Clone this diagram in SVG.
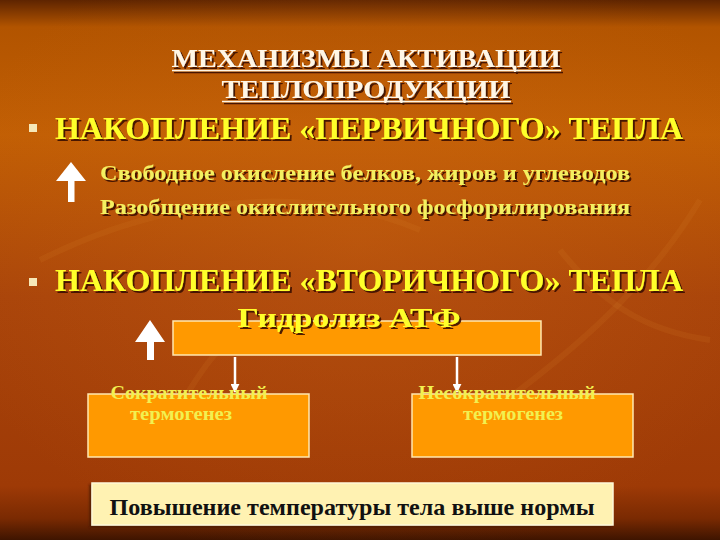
<svg xmlns="http://www.w3.org/2000/svg" width="720" height="540" viewBox="0 0 720 540">
  <defs>
    <linearGradient id="bg" x1="0" y1="0" x2="0" y2="1">
      <stop offset="0" stop-color="#5e2400"/>
      <stop offset="0.05" stop-color="#b25400"/>
      <stop offset="0.25" stop-color="#c25f04"/>
      <stop offset="0.55" stop-color="#a9440a"/>
      <stop offset="0.9" stop-color="#9e3a06"/>
      <stop offset="0.96" stop-color="#7a2a02"/>
      <stop offset="1" stop-color="#3e1400"/>
    </linearGradient>
    <radialGradient id="glow" cx="0.5" cy="0.45" r="0.6">
      <stop offset="0" stop-color="#d06a18" stop-opacity="0.3"/>
      <stop offset="1" stop-color="#d06a18" stop-opacity="0"/>
    </radialGradient>
    <filter id="sh" filterUnits="userSpaceOnUse" x="0" y="0" width="720" height="540">
      <feDropShadow dx="2" dy="2" stdDeviation="0.6" flood-color="#3a1000" flood-opacity="0.9"/>
    </filter>
    <filter id="bsh" filterUnits="userSpaceOnUse" x="0" y="0" width="720" height="540">
      <feDropShadow dx="-2" dy="2" stdDeviation="1" flood-color="#4a1500" flood-opacity="0.8"/>
    </filter>
    <marker id="ah" viewBox="0 0 10 10" refX="9" refY="5" markerWidth="3.6" markerHeight="3.6" orient="auto">
      <path d="M0,0 L10,5 L0,10 z" fill="#ffffff"/>
    </marker>
  </defs>
  <style>
    .title { font-family: "Liberation Serif", "Times New Roman", serif; font-weight: bold; font-size: 26px; fill: #fff6e6; }
    .head { font-family: "Liberation Serif", "Times New Roman", serif; font-weight: bold; font-size: 32px; fill: #ffff2a; }
    .sub { font-family: "Liberation Serif", "Times New Roman", serif; font-weight: bold; font-size: 22px; fill: #f4f060; }
    .atp { font-family: "Liberation Serif", "Times New Roman", serif; font-weight: bold; font-size: 28px; fill: #ffff2a; }
    .small { font-family: "Liberation Serif", "Times New Roman", serif; font-weight: bold; font-size: 18px; fill: #f2f050; }
    .result { font-family: "Liberation Serif", "Times New Roman", serif; font-weight: bold; font-size: 23px; fill: #111111; }
    .box { fill: #ff9900; stroke: #ffe8b0; stroke-width: 1.5; }
    .conn { stroke: #ffffff; stroke-width: 2.5; fill: none; }
    .bigarrow { fill: #ffffff; }
    .bullet { fill: #f6e8b8; }
  </style>

  <!-- background -->
  <rect x="0" y="0" width="720" height="540" fill="url(#bg)"/>
  <rect x="0" y="0" width="720" height="540" fill="url(#glow)"/>
  <g fill="none" stroke="#e08a30" stroke-opacity="0.12" stroke-width="6">
    <path d="M40,260 C160,200 300,180 420,230"/>
    <path d="M480,420 C560,360 640,300 700,200"/>
    <path d="M560,250 C600,300 640,330 710,340"/>
    <path d="M150,450 C190,400 200,350 260,320"/>
  </g>

  <!-- title -->
  <g id="title" filter="url(#sh)">
    <text class="title" x="366" y="67" text-anchor="middle" textLength="389" lengthAdjust="spacingAndGlyphs">МЕХАНИЗМЫ АКТИВАЦИИ</text>
    <line x1="172" y1="70.5" x2="561" y2="70.5" stroke="#fff6e6" stroke-width="1.5"/>
    <text class="title" x="366" y="98" text-anchor="middle" textLength="289" lengthAdjust="spacingAndGlyphs">ТЕПЛОПРОДУКЦИИ</text>
    <line x1="222" y1="101.5" x2="511" y2="101.5" stroke="#fff6e6" stroke-width="1.5"/>
  </g>

  <!-- primary heat -->
  <g id="primary">
    <rect class="bullet" x="29" y="124" width="8" height="8"/>
    <g filter="url(#sh)">
      <text class="head" x="55" y="139" textLength="628" lengthAdjust="spacingAndGlyphs">НАКОПЛЕНИЕ «ПЕРВИЧНОГО» ТЕПЛА</text>
    </g>
  </g>
  <g id="primary-arrow">
    <polygon class="bigarrow" points="71,162 86,181 74.5,181 74.5,202 68,202 68,181 56,181"/>
  </g>
  <g id="primary-items" filter="url(#sh)">
    <text class="sub" x="100" y="180" textLength="530" lengthAdjust="spacingAndGlyphs">Свободное окисление белков, жиров и углеводов</text>
    <text class="sub" x="100" y="214" textLength="530" lengthAdjust="spacingAndGlyphs">Разобщение окислительного фосфорилирования</text>
  </g>

  <!-- secondary heat -->
  <g id="secondary">
    <rect class="bullet" x="29" y="278" width="8" height="8"/>
    <g filter="url(#sh)">
      <text class="head" x="55" y="291" textLength="628" lengthAdjust="spacingAndGlyphs">НАКОПЛЕНИЕ «ВТОРИЧНОГО» ТЕПЛА</text>
    </g>
  </g>
  <g id="secondary-arrow">
    <polygon class="bigarrow" points="150,320 165,342 154,342 154,360 147,360 147,342 135,342"/>
  </g>

  <!-- ATP hydrolysis -->
  <g id="atp">
    <rect class="box" x="173" y="321" width="368" height="34"/>
    <g filter="url(#sh)">
      <text class="atp" x="349" y="327" text-anchor="middle" textLength="223" lengthAdjust="spacingAndGlyphs">Гидролиз  АТФ</text>
    </g>
  </g>

  <!-- connectors -->
  <g id="connectors">
    <line class="conn" x1="235" y1="357" x2="235" y2="392" marker-end="url(#ah)"/>
    <line class="conn" x1="457" y1="357" x2="457" y2="392" marker-end="url(#ah)"/>
  </g>

  <!-- shivering -->
  <g id="shivering">
    <rect class="box" x="88" y="394" width="221" height="63"/>
    <text class="small" x="189" y="399" text-anchor="middle" textLength="157" lengthAdjust="spacingAndGlyphs">Сократительный</text>
    <text class="small" x="181" y="420" text-anchor="middle" textLength="102" lengthAdjust="spacingAndGlyphs">термогенез</text>
  </g>

  <!-- non-shivering -->
  <g id="nonshivering">
    <rect class="box" x="412" y="394" width="221" height="63"/>
    <text class="small" x="507" y="399" text-anchor="middle" textLength="177" lengthAdjust="spacingAndGlyphs">Несократительный</text>
    <text class="small" x="513" y="420" text-anchor="middle" textLength="100" lengthAdjust="spacingAndGlyphs">термогенез</text>
  </g>

  <!-- result -->
  <g id="result">
    <rect x="92" y="483" width="521" height="42" fill="#fff2b2" stroke="#fff8d8" stroke-width="1.5" filter="url(#bsh)"/>
    <text class="result" x="352" y="515" text-anchor="middle" textLength="485" lengthAdjust="spacingAndGlyphs">Повышение температуры тела выше нормы</text>
  </g>
</svg>
